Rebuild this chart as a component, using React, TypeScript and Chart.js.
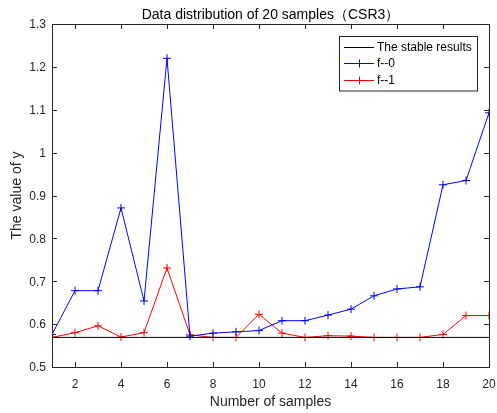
import React, { useEffect, useRef } from "react";
import { Chart, registerables } from "chart.js";

Chart.register(...registerables);

const samples = [1, 2, 3, 4, 5, 6, 7, 8, 9, 10, 11, 12, 13, 14, 15, 16, 17, 18, 19, 20];
const stableValue = 0.569;
const f0 = [0.576, 0.678, 0.678, 0.871, 0.654, 1.22, 0.572, 0.579, 0.582, 0.585, 0.608, 0.608, 0.621, 0.635, 0.666, 0.682, 0.687, 0.925, 0.935, 1.093];
const f1 = [0.569, 0.58, 0.596, 0.57, 0.58, 0.731, 0.575, 0.569, 0.569, 0.623, 0.579, 0.569, 0.573, 0.572, 0.569, 0.569, 0.569, 0.576, 0.62, 0.62];
const xTicks = [2, 4, 6, 8, 10, 12, 14, 16, 18, 20];
const yTicks = [0.5, 0.6, 0.7, 0.8, 0.9, 1.0, 1.1, 1.2, 1.3];
const titleText = "Data distribution of 20 samples（CSR3）";
const xTitle = "Number of samples";
const yTitle = "The value of y";
const legendLabels = ["The stable results", "f--0", "f--1"];
const colors = ["#000000", "#0000ff", "#ff0000"];

const FONT = "'Liberation Sans', Arial, sans-serif";
const AXIS = "#262626";

const decorPlugin = {
  id: "decor",
  afterDatasetsDraw(chart: any) {
    const ctx = chart.ctx as CanvasRenderingContext2D;
    const { left, right, top, bottom } = chart.chartArea;
    const xs = chart.scales.x;
    const ys = chart.scales.y;
    ctx.save();
    ctx.strokeStyle = AXIS;
    ctx.lineWidth = 1;
    // box
    ctx.strokeRect(Math.round(left) + 0.5, Math.round(top) + 0.5, Math.round(right - left), Math.round(bottom - top));
    const tl = 5;
    ctx.beginPath();
    for (const v of xTicks) {
      const px = Math.round(xs.getPixelForValue(v)) + 0.5;
      ctx.moveTo(px, bottom);
      ctx.lineTo(px, bottom - tl);
      ctx.moveTo(px, top);
      ctx.lineTo(px, top + tl);
    }
    for (const v of yTicks) {
      const py = Math.round(ys.getPixelForValue(v)) + 0.5;
      ctx.moveTo(left, py);
      ctx.lineTo(left + tl, py);
      ctx.moveTo(right, py);
      ctx.lineTo(right - tl, py);
    }
    ctx.stroke();

    // titles
    ctx.fillStyle = "#000";
    ctx.font = `14px ${FONT}`;
    ctx.textAlign = "center";
    ctx.textBaseline = "alphabetic";
    ctx.fillText(titleText, (left + right) / 2, 19);
    ctx.fillStyle = AXIS;
    ctx.fillText(xTitle, (left + right) / 2, 406);
    ctx.save();
    ctx.translate(20.5, (top + bottom) / 2);
    ctx.rotate(-Math.PI / 2);
    ctx.fillText(yTitle, 0, 0);
    ctx.restore();

    // legend
    const lx0 = 339.5, ly0 = 36.5, lw = 138, lh = 54.5;
    ctx.fillStyle = "#fff";
    ctx.fillRect(lx0, ly0, lw, lh);
    ctx.strokeStyle = AXIS;
    ctx.strokeRect(lx0, ly0, lw, lh);
    const rows = [46.7, 63.3, 80];
    ctx.font = `12px ${FONT}`;
    ctx.textAlign = "left";
    ctx.textBaseline = "middle";
    legendLabels.forEach((lab, i) => {
      const y = Math.round(rows[i]) + 0.5;
      ctx.strokeStyle = colors[i];
      ctx.beginPath();
      ctx.moveTo(344, y);
      ctx.lineTo(374, y);
      if (i > 0) {
        ctx.moveTo(359.5, y - 4);
        ctx.lineTo(359.5, y + 4);
        ctx.moveTo(355.5, y);
        ctx.lineTo(363.5, y);
      }
      ctx.stroke();
      ctx.fillStyle = "#000";
      ctx.fillText(lab, 377, rows[i] + 0.5);
    });
    ctx.restore();
  },
};

export default function App() {
  const ref = useRef<HTMLCanvasElement | null>(null);
  useEffect(() => {
    if (!ref.current) return;
    const pts = (arr: number[]) => samples.map((s, i) => ({ x: s, y: arr[i] }));
    const chart = new Chart(ref.current, {
      type: "line",
      data: {
        datasets: [
          {
            label: legendLabels[0],
            data: samples.map((s) => ({ x: s, y: stableValue })),
            borderColor: colors[0],
            borderWidth: 1,
            pointRadius: 0,
          },
          {
            label: legendLabels[1],
            data: pts(f0),
            borderColor: colors[1],
            borderWidth: 1,
            pointStyle: "cross",
            pointRadius: 4,
            pointBorderColor: colors[1],
            pointBorderWidth: 1,
          },
          {
            label: legendLabels[2],
            data: pts(f1),
            borderColor: colors[2],
            borderWidth: 1,
            pointStyle: "cross",
            pointRadius: 4,
            pointBorderColor: colors[2],
            pointBorderWidth: 1,
          },
        ],
      },
      options: {
        animation: false,
        responsive: true,
        maintainAspectRatio: false,
        layout: { padding: { top: 24, right: 8, left: 0, bottom: 0 } },
        plugins: { legend: { display: false }, title: { display: false }, tooltip: { enabled: false } },
        elements: { line: { tension: 0 } },
        scales: {
          x: {
            type: "linear",
            min: 1,
            max: 20,
            grid: { display: false, drawTicks: false },
            border: { display: false },
            afterBuildTicks: (s: any) => {
              s.ticks = xTicks.map((v) => ({ value: v }));
            },
            afterFit: (s: any) => {
              s.height = 46;
              s.paddingLeft = 0;
              s.paddingRight = 0;
            },
            ticks: {
              autoSkip: false,
              maxRotation: 0,
              padding: 10,
              color: AXIS,
              font: { family: FONT, size: 12 },
              callback: (v: any) => String(v),
            },
          },
          y: {
            type: "linear",
            min: 0.5,
            max: 1.3,
            grid: { display: false, drawTicks: false },
            border: { display: false },
            afterBuildTicks: (s: any) => {
              s.ticks = yTicks.map((v) => ({ value: v }));
            },
            afterFit: (s: any) => {
              s.width = 52;
              s.paddingTop = 0;
              s.paddingBottom = 0;
            },
            ticks: {
              autoSkip: false,
              padding: 6,
              labelOffset: 1,
              color: AXIS,
              font: { family: FONT, size: 12 },
              callback: (v: any) => String(Math.round(Number(v) * 10) / 10),
            },
          },
        },
      },
      plugins: [decorPlugin],
    });
    return () => chart.destroy();
  }, []);
  return (
    <div style={{ position: "fixed", left: 0, top: 0, width: 497, height: 413, background: "#fff" }}>
      <canvas ref={ref} />
    </div>
  );
}
